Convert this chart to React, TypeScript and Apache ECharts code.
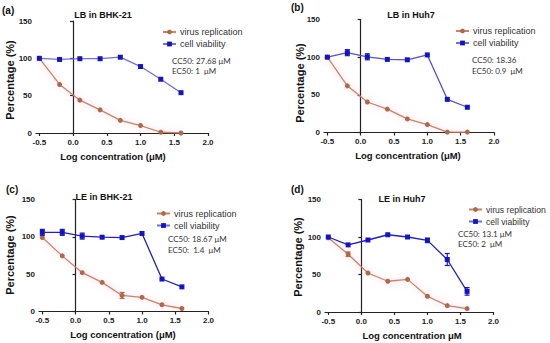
import React, { useEffect, useRef } from "react";
import * as echarts from "echarts";

const xValues = [-0.5, -0.2, 0.1, 0.4, 0.7, 1.0, 1.3, 1.6];
const xTicks = [-0.5, 0, 0.5, 1.0, 1.5, 2.0];
const yTicks = [0, 50, 100, 150];

const virusA = [100, 65, 44, 31, 17, 10, 1, 0];
const cellA = [100, 98.5, 99.5, 99.5, 101.5, 89, 72, 54];
const virusB = [100, 62, 40.5, 31, 18, 10.5, 0.5, 0.5];
const cellB = [100, 106, 100.5, 97, 96.5, 103, 44, 33.5];
const virusC = [99, 74.5, 52, 39, 21.5, 19, 9, 4];
const cellC = [106, 106, 101, 99.5, 99, 104.5, 43.5, 33];
const virusD = [99, 77, 52, 41, 43.5, 21, 8.5, 4.5];
const cellD = [100, 89.5, 96, 103, 100, 95.5, 70, 27.5];

// error bars: [x, half-width]
const errCellB = [[-0.2, 4], [0.1, 4]];
const errCellC = [[-0.5, 4], [-0.2, 4], [0.1, 4]];
const errVirusC = [[0.7, 4]];
const errVirusD = [[-0.2, 3]];
const errCellD = [[1.0, 3], [1.3, 8], [1.6, 5]];

const titles = ["LB in BHK-21", "LB in Huh7", "LE in BHK-21", "LE in Huh7"];
const panelLabels = ["(a)", "(b)", "(c)", "(d)"];
const xNames = ["Log concentration (μM)", "Log concentration (μM)", "Log concentration (μM)", "Log concentration μM"];
const cc50 = ["CC50: 27.68 μM", "CC50: 18.36", "CC50: 18.67 μM", "CC50: 13.1 μM"];
const ec50 = ["EC50: 1  μM", "EC50: 0.9  μM", "EC50:  1.4  μM", "EC50: 2  μM"];

const BOLD = "Liberation Sans";
const virusLine = "#c98462";
const virusMark = "#b0684a";
const cellMark = "#1414c4";

export default function App() {
  const ref = useRef<HTMLDivElement>(null);
  useEffect(() => {
    if (!ref.current) return;
    const chart = echarts.init(ref.current, undefined, { renderer: "svg" });

    const grids = [
      { left: 36, top: 21, width: 172, height: 112 },
      { left: 324, top: 19.5, width: 170, height: 113 },
      { left: 39, top: 199.5, width: 169.5, height: 112 },
      { left: 325, top: 199.5, width: 168.5, height: 112.5 },
    ];
    const virusAll = [virusA, virusB, virusC, virusD];
    const cellAll = [cellA, cellB, cellC, cellD];
    const cellLineColors = ["#6f6fe0", "#5050d8", "#2020c4", "#2020c4"];
    const legendPos = [
      { left: 157, top: 22.5 },
      { left: 450, top: 21.5 },
      { left: 151, top: 204 },
      { left: 463, top: 200 },
    ];
    const legendFont = [9, 9, 9, 8.6];
    const ccPos = [
      [172, 61, 71],
      [472, 60, 71],
      [168, 239, 249.5],
      [458, 234, 244],
    ];
    const titlePos = [[103, 15], [411, 15], [104, 197], [402, 198.5]];
    const labelPos = [[2, 10], [291, 7], [6, 189], [291, 189]];
    const xNamePos = [[113, 156], [408, 155], [123, 334.5], [412, 335]];
    const yNamePos = [[10, 80], [300, 83], [10, 255], [298, 257]];
    const errs = [
      [[], []],
      [[], errCellB],
      [errVirusC, errCellC],
      [errVirusD, errCellD],
    ];

    const xAxis = grids.map((_, i) => ({
      type: "value",
      gridIndex: i,
      min: -0.55,
      max: 2.0,
      splitLine: { show: false },
      axisLine: { lineStyle: { color: "#222", width: 1.2 } },
      axisTick: { customValues: xTicks, length: 3, lineStyle: { color: "#222", width: 1.2 } },
      axisLabel: {
        customValues: xTicks,
        formatter: (v: number) => v.toFixed(1),
        fontFamily: BOLD,
        fontWeight: "bold",
        fontSize: 8,
        color: "#222",
        margin: 5,
      },
    }));
    const yAxis = grids.map((_, i) => ({
      type: "value",
      gridIndex: i,
      min: 0,
      max: 150,
      interval: 50,
      splitLine: { show: false },
      axisLine: { show: true, lineStyle: { color: "#222", width: 1.2 } },
      axisTick: { show: true, length: 3, lineStyle: { color: "#222", width: 1.2 } },
      axisLabel: {
        fontFamily: BOLD,
        fontWeight: "bold",
        fontSize: 8,
        color: "#222",
        margin: 4,
      },
    }));

    const series: any[] = [];
    grids.forEach((_, i) => {
      series.push({
        type: "line",
        name: "virus replication",
        xAxisIndex: i,
        yAxisIndex: i,
        data: xValues.map((x, k) => [x, virusAll[i][k]]),
        symbol: "circle",
        symbolSize: 5,
        itemStyle: { color: virusMark },
        lineStyle: {
          color: virusLine,
          width: 1.3,
          shadowColor: "rgba(255,120,190,0.55)",
          shadowBlur: 7,
        },
        z: 2,
      });
      series.push({
        type: "line",
        name: "cell viability",
        xAxisIndex: i,
        yAxisIndex: i,
        data: xValues.map((x, k) => [x, cellAll[i][k]]),
        symbol: "rect",
        symbolSize: 5,
        itemStyle: { color: cellMark },
        lineStyle: { color: cellLineColors[i], width: 1.3 },
        z: 3,
      });
      const [ev, ec] = errs[i];
      const mk = (list: number[][], vals: number[], color: string) => ({
        type: "custom",
        xAxisIndex: i,
        yAxisIndex: i,
        silent: true,
        z: 4,
        data: list.map(([x, e]) => {
          const k = xValues.findIndex((v) => Math.abs(v - x) < 1e-6);
          return [x, vals[k] - e, vals[k] + e];
        }),
        renderItem: (params: any, api: any) => {
          const lo = api.coord([api.value(0), api.value(1)]);
          const hi = api.coord([api.value(0), api.value(2)]);
          const st = { stroke: color, lineWidth: 1.2 };
          return {
            type: "group",
            children: [
              { type: "line", shape: { x1: lo[0], y1: lo[1], x2: hi[0], y2: hi[1] }, style: st },
              { type: "line", shape: { x1: lo[0] - 2.5, y1: lo[1], x2: lo[0] + 2.5, y2: lo[1] }, style: st },
              { type: "line", shape: { x1: hi[0] - 2.5, y1: hi[1], x2: hi[0] + 2.5, y2: hi[1] }, style: st },
            ],
          };
        },
      });
      if (ev.length) series.push(mk(ev, virusAll[i], virusMark));
      if (ec.length) series.push(mk(ec, cellAll[i], cellMark));
    });

    const legend = legendPos.map((p, i) => ({
      left: p.left,
      top: p.top,
      orient: "vertical",
      itemWidth: 13,
      itemHeight: 6,
      itemGap: 3,
      data: ["virus replication", "cell viability"],
      textStyle: { fontFamily: "Liberation Sans", fontSize: legendFont[i], color: "#333", padding: [0, 0, 0, -1] },
      selectedMode: false,
    }));

    const graphic: any[] = [];
    for (let i = 0; i < 4; i++) {
      graphic.push({
        type: "text",
        x: titlePos[i][0],
        y: titlePos[i][1],
        style: { text: titles[i], font: `bold 9px "${BOLD}"`, fill: "#111", align: "center", verticalAlign: "middle" },
      });
      graphic.push({
        type: "text",
        x: labelPos[i][0],
        y: labelPos[i][1],
        style: { text: panelLabels[i], font: `bold 10px "${BOLD}"`, fill: "#111", align: "left", verticalAlign: "middle" },
      });
      graphic.push({
        type: "text",
        x: xNamePos[i][0],
        y: xNamePos[i][1],
        style: { text: xNames[i], font: `bold 9.5px "${BOLD}"`, fill: "#111", align: "center", verticalAlign: "middle" },
      });
      graphic.push({
        type: "text",
        x: yNamePos[i][0],
        y: yNamePos[i][1],
        rotation: Math.PI / 2,
        style: { text: "Percentage (%)", font: `bold 11px "${BOLD}"`, fill: "#111", align: "center", verticalAlign: "middle" },
      });
      graphic.push({
        type: "text",
        x: ccPos[i][0],
        y: ccPos[i][1],
        style: { text: cc50[i], font: `8px "Lato"`, fill: "#333", align: "left", verticalAlign: "middle" },
      });
      graphic.push({
        type: "text",
        x: ccPos[i][0],
        y: ccPos[i][2],
        style: { text: ec50[i], font: `8px "Lato"`, fill: "#333", align: "left", verticalAlign: "middle" },
      });
    }

    chart.setOption({
      animation: false,
      backgroundColor: "#fff",
      grid: grids,
      xAxis,
      yAxis,
      series,
      legend,
      graphic,
    });
    return () => chart.dispose();
  }, []);
  return <div ref={ref} style={{ width: 550, height: 343, position: "absolute", left: 0, top: 0 }} />;
}
